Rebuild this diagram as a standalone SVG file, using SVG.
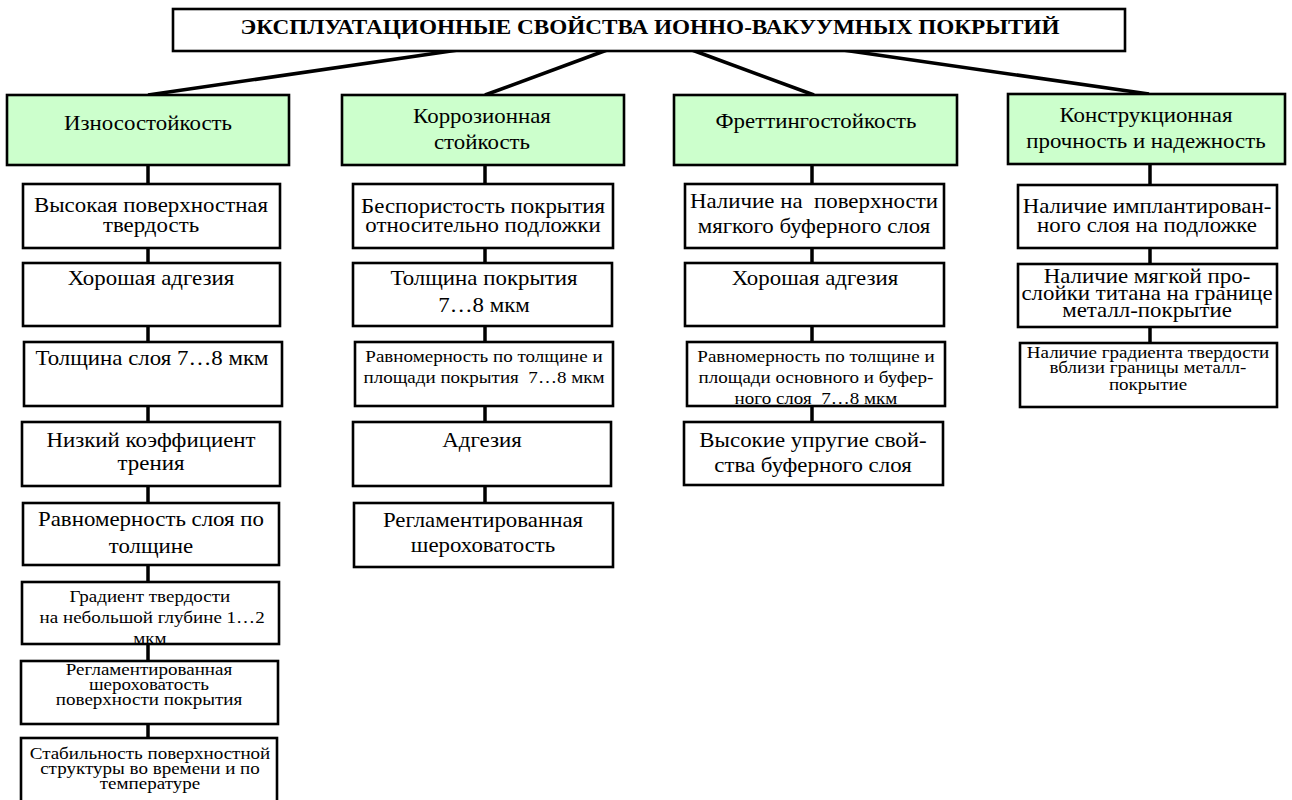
<svg xmlns="http://www.w3.org/2000/svg" width="1292" height="800" viewBox="0 0 1292 800">
<style>
.bg{fill:#ffffff}
.box{fill:#ffffff;stroke:#000;stroke-width:2.6}
.fw{fill:#ffffff;stroke:none}
.bd{fill:none;stroke:#000;stroke-width:2.6}
.hdr{fill:#CCFFCC;stroke:#000;stroke-width:2.6}
.con{stroke:#000;stroke-width:3.5;fill:none}
.vc{stroke:#000;stroke-width:3.5;fill:none}
text{font-family:"Liberation Serif","Times New Roman",serif;fill:#000;text-anchor:middle}
.t{font-size:22px;font-weight:bold}
.h{font-size:21px}
.m{font-size:21px}
.s{font-size:17px}
</style>
<rect class="bg" x="0" y="0" width="1292" height="800"/>
<g id="connectors">
<line class="con" x1="458" y1="50" x2="148" y2="95"/>
<line class="con" x1="607" y1="50" x2="485" y2="95"/>
<line class="con" x1="692" y1="50" x2="814" y2="95"/>
<line class="con" x1="843" y1="50" x2="1149" y2="94"/>
<line class="vc" x1="148" y1="165" x2="148" y2="738"/>
<line class="vc" x1="485" y1="165" x2="485" y2="503"/>
<line class="vc" x1="812" y1="165" x2="812" y2="422"/>
<line class="vc" x1="1150" y1="164" x2="1150" y2="343"/>
</g>
<g id="title">
<rect class="box" x="173" y="9" width="952" height="42"/>
<text class="t" x="650" y="34" textLength="819" lengthAdjust="spacingAndGlyphs">ЭКСПЛУАТАЦИОННЫЕ СВОЙСТВА ИОННО-ВАКУУМНЫХ ПОКРЫТИЙ</text>
</g>
<g id="h1"><rect class="hdr" x="7" y="95" width="282" height="70"/><g transform="translate(148 0) scale(1.09 1)"><text class="h" x="0" y="130">Износостойкость</text></g></g>
<g id="h2"><rect class="hdr" x="342" y="95" width="282" height="70"/><g transform="translate(482 0) scale(1.09 1)"><text class="h" x="0" y="123">Коррозионная</text><text class="h" x="0" y="149">стойкость</text></g></g>
<g id="h3"><rect class="hdr" x="674" y="95" width="283" height="70"/><g transform="translate(816 0) scale(1.09 1)"><text class="h" x="0" y="128">Фреттингостойкость</text></g></g>
<g id="h4"><rect class="hdr" x="1008" y="94" width="277" height="70"/><g transform="translate(1146 0) scale(1.09 1)"><text class="h" x="0" y="122">Конструкционная</text><text class="h" x="0" y="148">прочность и надежность</text></g></g>

<g id="c1n1"><rect class="box" x="23" y="184" width="257" height="64"/><g transform="translate(151 0) scale(1.09 1)"><text class="m" x="0" y="212">Высокая поверхностная</text><text class="m" x="0" y="232">твердость</text></g></g>
<g id="c1n2"><rect class="box" x="23" y="263" width="257" height="63"/><g transform="translate(151 0) scale(1.09 1)"><text class="m" x="0" y="285">Хорошая адгезия</text></g></g>
<g id="c1n3"><rect class="box" x="24" y="342" width="258" height="64"/><g transform="translate(152 0) scale(1.09 1)"><text class="m" x="0" y="365">Толщина слоя 7…8 мкм</text></g></g>
<g id="c1n4"><rect class="box" x="22" y="422" width="258" height="64"/><g transform="translate(151 0) scale(1.09 1)"><text class="m" x="0" y="447">Низкий коэффициент</text><text class="m" x="0" y="470">трения</text></g></g>
<g id="c1n5"><rect class="box" x="23" y="503" width="256" height="62"/><g transform="translate(151 0) scale(1.09 1)"><text class="m" x="0" y="526">Равномерность слоя по</text><text class="m" x="0" y="553">толщине</text></g></g>
<g id="c1n6"><rect class="fw" x="22" y="582" width="257" height="62"/><g transform="translate(151 0) scale(1.12 1)"><text class="s" x="-1" y="602">Градиент твердости</text><text class="s" x="1" y="623">на небольшой глубине 1…2</text><text class="s" x="-1" y="644">мкм</text></g><rect class="bd" x="22" y="582" width="257" height="62"/></g>
<g id="c1n7"><rect class="box" x="21" y="661" width="257" height="63"/><g transform="translate(149 0) scale(1.12 1)"><text class="s" x="0" y="675">Регламентированная</text><text class="s" x="0" y="690">шероховатость</text><text class="s" x="0" y="705">поверхности покрытия</text></g></g>
<g id="c1n8"><rect class="box" x="21" y="738" width="256" height="66"/><g transform="translate(150 0) scale(1.12 1)"><text class="s" x="0" y="759">Стабильность поверхностной</text><text class="s" x="0" y="774">структуры во времени и по</text><text class="s" x="0" y="789">температуре</text></g></g>

<g id="c2n1"><rect class="box" x="353" y="184" width="260" height="64"/><g transform="translate(483 0) scale(1.09 1)"><text class="m" x="0" y="213">Беспористость покрытия</text><text class="m" x="0" y="232">относительно подложки</text></g></g>
<g id="c2n2"><rect class="box" x="353" y="263" width="259" height="63"/><g transform="translate(484 0) scale(1.09 1)"><text class="m" x="0" y="285">Толщина покрытия</text><text class="m" x="0" y="312">7…8 мкм</text></g></g>
<g id="c2n3"><rect class="box" x="355" y="342" width="258" height="64"/><g transform="translate(484 0) scale(1.12 1)"><text class="s" x="0" y="362">Равномерность по толщине и</text><text class="s" x="0" y="383" xml:space="preserve">площади покрытия  7…8 мкм</text></g></g>
<g id="c2n4"><rect class="box" x="353" y="422" width="258" height="64"/><g transform="translate(482 0) scale(1.09 1)"><text class="m" x="0" y="447">Адгезия</text></g></g>
<g id="c2n5"><rect class="box" x="354" y="503" width="259" height="64"/><g transform="translate(483 0) scale(1.09 1)"><text class="m" x="0" y="527">Регламентированная</text><text class="m" x="0" y="552">шероховатость</text></g></g>

<g id="c3n1"><rect class="box" x="685" y="184" width="259" height="64"/><g transform="translate(814 0) scale(1.09 1)"><text class="m" x="0" y="208" xml:space="preserve">Наличие на  поверхности</text><text class="m" x="0" y="233">мягкого буферного слоя</text></g></g>
<g id="c3n2"><rect class="box" x="685" y="263" width="259" height="63"/><g transform="translate(815 0) scale(1.09 1)"><text class="m" x="0" y="285">Хорошая адгезия</text></g></g>
<g id="c3n3"><rect class="fw" x="687" y="342" width="258" height="64"/><g transform="translate(816 0) scale(1.12 1)"><text class="s" x="0" y="362">Равномерность по толщине и</text><text class="s" x="0" y="383">площади основного и буфер-</text><text class="s" x="0" y="404" xml:space="preserve">ного слоя  7…8 мкм</text></g><rect class="bd" x="687" y="342" width="258" height="64"/></g>
<g id="c3n4"><rect class="box" x="684" y="422" width="259" height="63"/><g transform="translate(813 0) scale(1.09 1)"><text class="m" x="0" y="447">Высокие упругие свой-</text><text class="m" x="0" y="472">ства буферного слоя</text></g></g>

<g id="c4n1"><rect class="box" x="1018" y="185" width="259" height="63"/><g transform="translate(1147 0) scale(1.09 1)"><text class="m" x="0" y="213">Наличие имплантирован-</text><text class="m" x="0" y="232">ного слоя на подложке</text></g></g>
<g id="c4n2"><rect class="box" x="1018" y="264" width="259" height="63"/><g transform="translate(1147 0) scale(1.09 1)"><text class="m" x="0" y="283">Наличие мягкой про-</text><text class="m" x="0" y="300">слойки титана на границе</text><text class="m" x="0" y="317">металл-покрытие</text></g></g>
<g id="c4n3"><rect class="box" x="1020" y="343" width="257" height="64"/><g transform="translate(1148 0) scale(1.12 1)"><text class="s" x="0" y="358">Наличие градиента твердости</text><text class="s" x="0" y="373">вблизи границы металл-</text><text class="s" x="0" y="390">покрытие</text></g></g>
</svg>
